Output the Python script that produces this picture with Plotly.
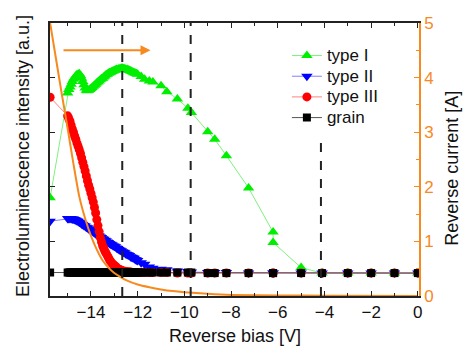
import plotly.graph_objects as go

# ---------------- data ----------------
bias = [-15.75,
        -15.0, -14.95, -14.9, -14.85, -14.8, -14.75, -14.7, -14.65, -14.6, -14.55,
        -14.5, -14.45, -14.4, -14.35, -14.3, -14.25, -14.2, -14.15, -14.1, -14.05,
        -14.0, -13.95, -13.9, -13.85, -13.8, -13.75, -13.7, -13.65, -13.6, -13.55,
        -13.5, -13.45, -13.4, -13.35, -13.3, -13.25, -13.2, -13.15, -13.1, -13.05,
        -13.0, -12.95, -12.9, -12.85, -12.8, -12.75, -12.7, -12.65, -12.6, -12.55,
        -12.5, -12.45, -12.4, -12.35, -12.3, -12.25, -12.2, -12.15, -12.1, -12.05, -12.0,
        -11.85, -11.7, -11.5, -11.35, -11.0, -10.75, -10.3, -9.85, -9.7, -9.0, -8.7,
        -8.2, -7.25, -6.2, -6.2, -5.0, -4.1, -3.0, -2.0, -1.0, 0.0]

type_I = [1.80,
          3.72, 3.78, 3.83, 3.88, 3.93, 3.97, 4.00, 4.03, 4.05, 4.06,
          4.07, 4.04, 3.99, 3.93, 3.87, 3.81, 3.77, 3.76, 3.77, 3.78,
          3.80, 3.82, 3.84, 3.86, 3.88, 3.90, 3.92, 3.94, 3.96, 3.98,
          3.99, 4.01, 4.03, 4.05, 4.06, 4.08, 4.09, 4.10, 4.11, 4.12,
          4.13, 4.14, 4.15, 4.15, 4.16, 4.16, 4.17, 4.17, 4.16, 4.16,
          4.15, 4.15, 4.14, 4.13, 4.12, 4.11, 4.10, 4.09, 4.08, 4.07, 4.06,
          4.02, 3.97, 3.94, 3.92, 3.85, 3.74, 3.61, 3.44, 3.36, 3.01, 2.87,
          2.57, 1.98, 1.17, 0.98, 0.52, 0.42, 0.42, 0.42, 0.42, 0.42]

type_II = [1.37,
           1.42, 1.42, 1.42, 1.42, 1.41, 1.41, 1.40, 1.39, 1.38, 1.37,
           1.35, 1.34, 1.32, 1.31, 1.29, 1.28, 1.26, 1.25, 1.23, 1.22,
           1.20, 1.19, 1.17, 1.16, 1.14, 1.13, 1.11, 1.10, 1.08, 1.07,
           1.05, 1.04, 1.02, 1.01, 0.99, 0.98, 0.96, 0.95, 0.94, 0.92,
           0.91, 0.90, 0.88, 0.87, 0.85, 0.84, 0.83, 0.81, 0.80, 0.79,
           0.77, 0.76, 0.75, 0.74, 0.72, 0.71, 0.70, 0.69, 0.67, 0.66, 0.65,
           0.61, 0.58, 0.53, 0.51, 0.49, 0.48, 0.46, 0.45, 0.44, 0.43, 0.43,
           0.43, 0.42, 0.42, 0.42, 0.42, 0.42, 0.42, 0.42, 0.42, 0.42]

type_III = [3.64,
            3.30, 3.25, 3.20, 3.13, 3.06, 3.00, 2.93, 2.87, 2.80, 2.74,
            2.68, 2.61, 2.53, 2.45, 2.37, 2.29, 2.20, 2.11, 2.03, 1.96,
            1.88, 1.80, 1.72, 1.62, 1.52, 1.40, 1.29, 1.18, 1.07, 0.99,
            0.92, 0.87, 0.82, 0.78, 0.74, 0.70, 0.66, 0.63, 0.60, 0.58,
            0.56, 0.54, 0.52, 0.50, 0.49, 0.48, 0.47, 0.46, 0.46, 0.45,
            0.45, 0.44, 0.44, 0.44, 0.44, 0.43, 0.43, 0.43, 0.43, 0.43, 0.43,
            0.43, 0.43, 0.43, 0.43, 0.43, 0.43, 0.42, 0.42, 0.42, 0.42, 0.42,
            0.42, 0.42, 0.42, 0.42, 0.42, 0.42, 0.42, 0.42, 0.42, 0.42]

grain = [0.43,
         0.43, 0.43, 0.43, 0.43, 0.43, 0.43, 0.43, 0.43, 0.43, 0.43,
         0.43, 0.43, 0.43, 0.43, 0.43, 0.43, 0.43, 0.43, 0.43, 0.43,
         0.43, 0.43, 0.43, 0.43, 0.43, 0.43, 0.43, 0.43, 0.43, 0.43,
         0.43, 0.43, 0.43, 0.43, 0.43, 0.43, 0.43, 0.43, 0.43, 0.43,
         0.43, 0.43, 0.43, 0.43, 0.43, 0.43, 0.43, 0.43, 0.43, 0.43,
         0.43, 0.43, 0.43, 0.43, 0.43, 0.43, 0.43, 0.43, 0.43, 0.43, 0.43,
         0.43, 0.43, 0.43, 0.43, 0.43, 0.43, 0.43, 0.43, 0.43, 0.42, 0.42,
         0.42, 0.42, 0.42, 0.42, 0.42, 0.42, 0.42, 0.42, 0.42, 0.42]

current_bias = [-15.75, -15.5, -15.25, -15.0, -14.75, -14.5, -14.25, -14.0, -13.75,
                -13.5, -13.25, -13.0, -12.75, -12.5, -12.0, -11.5, -11.0, -10.5,
                -10.0, -9.0, -8.0, -6.0, -4.0, 0.0]
current_amp = [5.0, 4.35, 3.7, 3.07, 2.42, 1.82, 1.42, 1.10, 0.85,
               0.65, 0.52, 0.42, 0.35, 0.29, 0.21, 0.16, 0.12, 0.09,
               0.07, 0.04, 0.02, 0.01, 0.005, 0.0]

marker_bias = [-12.66, -9.73, -4.15]
marker_top = [5.0, 5.0, 2.87]
arrow_from = (-15.24, 4.5)
arrow_to = (-11.45, 4.5)

x_ticks = [-14, -12, -10, -8, -6, -4, -2, 0]
y2_ticks = [0, 1, 2, 3, 4, 5]

ORANGE = "#F7891F"
FONT = "Arial, Liberation Sans, sans-serif"

fig = go.Figure()

series = [
    ("type I", type_I, "#00EE00", "#80F080", "triangle-up", 10),
    ("type II", type_II, "#0000FF", "#8080FF", "triangle-down", 10),
    ("type III", type_III, "#FF0000", "#FF8080", "circle", 9),
    ("grain", grain, "#000000", "#555555", "square", 8),
]
for name, vals, mc, lc, sym, size in series:
    fig.add_trace(go.Scatter(
        x=bias, y=vals, name='<span style="font-size:17px">%s</span>' % name,
        mode="lines+markers",
        line=dict(color=lc, width=1),
        marker=dict(symbol=sym, size=size, color=mc, line=dict(width=0)),
        xaxis="x", yaxis="y"))

fig.add_trace(go.Scatter(
    x=current_bias, y=current_amp, mode="lines", showlegend=False,
    line=dict(color=ORANGE, width=2, shape="spline", smoothing=0.6),
    xaxis="x", yaxis="y2"))

for xb, yt in zip(marker_bias, marker_top):
    fig.add_shape(type="line", xref="x", yref="y", x0=xb, x1=xb, y0=0, y1=yt,
                  line=dict(color="#222222", width=2, dash="dash"), layer="above")

fig.add_annotation(x=arrow_to[0], y=arrow_to[1], ax=arrow_from[0], ay=arrow_from[1],
                   xref="x", yref="y2", axref="x", ayref="y2", text="",
                   showarrow=True, arrowhead=2, arrowsize=1, arrowwidth=2,
                   arrowcolor=ORANGE)

# axis titles as annotations
fig.add_annotation(text="Electroluminescence intensity [a.u.]", xref="paper", yref="paper",
                   x=-0.073, y=0.513, textangle=-90, showarrow=False,
                   xanchor="center", yanchor="middle",
                   font=dict(family=FONT, size=18, color="#111111"))
fig.add_annotation(text="Reverse current [A]", xref="paper", yref="paper",
                   x=1.089, y=0.469, textangle=-90, showarrow=False,
                   xanchor="center", yanchor="middle",
                   font=dict(family=FONT, size=18, color="#111111"))
fig.add_annotation(text="Reverse bias [V]", xref="paper", yref="paper",
                   x=0.5, y=-0.1465, showarrow=False,
                   xanchor="center", yanchor="middle",
                   font=dict(family=FONT, size=18, color="#111111"))

fig.update_layout(
    width=463, height=348,
    margin=dict(l=50, r=44, t=23, b=52),
    paper_bgcolor="white", plot_bgcolor="white",
    font=dict(family=FONT, size=17, color="#111111"),
    showlegend=True,
    legend=dict(x=0.642, y=0.937, xanchor="left", yanchor="top",
                bgcolor="rgba(0,0,0,0)", font=dict(size=13.6),
                tracegroupgap=0, itemwidth=30),
    xaxis=dict(range=[-15.755, 0.05], tickvals=x_ticks,
               showline=True, linecolor="#222222", linewidth=1.5,
               mirror="ticks", ticks="inside", ticklen=5, tickcolor="#222222",
               minor=dict(dtick=1, ticks="inside", ticklen=3, tickcolor="#222222"),
               showgrid=False, zeroline=False,
               tickfont=dict(size=17, color="#111111")),
    yaxis=dict(range=[0, 5], tickvals=[1, 2, 3, 4], showticklabels=False,
               showline=True, linecolor="#222222", linewidth=1.5,
               ticks="inside", ticklen=5, tickcolor="#222222",
               showgrid=False, zeroline=False),
    yaxis2=dict(range=[0, 5], overlaying="y", side="right", tickvals=y2_ticks,
                showline=True, linecolor=ORANGE, linewidth=1.5,
                ticks="inside", ticklen=5, tickcolor=ORANGE,
                minor=dict(dtick=0.5, ticks="inside", ticklen=3, tickcolor=ORANGE),
                showgrid=False, zeroline=False,
                tickfont=dict(size=17, color=ORANGE)),
)

fig.write_html("out.html")
